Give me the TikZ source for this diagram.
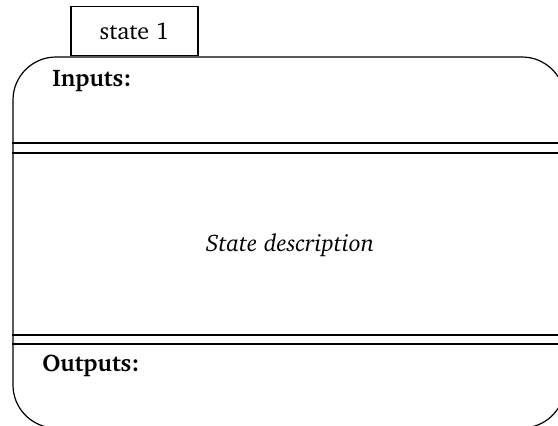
\documentclass[tikz,border=0pt]{standalone}
\usepackage[T1]{fontenc}
\usepackage{charter}
\usetikzlibrary{positioning}

\tikzset{
    statebox/.style={rectangle,draw,line width=0.6pt,rounded corners=21.5pt,inner sep=0pt},
    namebox/.style={rectangle,draw,line width=0.6pt,minimum width=63.5pt,minimum height=24.5pt,inner sep=0pt},
    divider/.style={line width=0.6pt}
}

\begin{document}
\begin{tikzpicture}[x=0.5pt,y=-0.5pt,font=\fontsize{12}{14}\selectfont]
    \useasboundingbox (0,0) rectangle (558,425);
    \clip (0,0) rectangle (558,425);

    % Main state box
    \node[statebox,minimum width=276pt,minimum height=185.5pt] (state) at (289,242.5) {};

    % Name tab on top
    \node[namebox,anchor=south west] (name) at ([xshift=29pt]state.north west) {state 1};

    % Section dividers
    \draw[divider] (state.west |- 0,143) -- (state.east |- 0,143);
    \draw[divider] (state.west |- 0,153) -- (state.east |- 0,153);
    \draw[divider] (state.west |- 0,335) -- (state.east |- 0,335);
    \draw[divider] (state.west |- 0,344) -- (state.east |- 0,344);

    % Texts
    \node[anchor=west,inner sep=0pt] (inputs) at (52,81) {\textbf{Inputs:}};
    \node[anchor=west,inner sep=0pt] (outputs) at (42,366) {\textbf{Outputs:}};
    \node (desc) at (290,245) {\textit{State description}};
\end{tikzpicture}
\end{document}
